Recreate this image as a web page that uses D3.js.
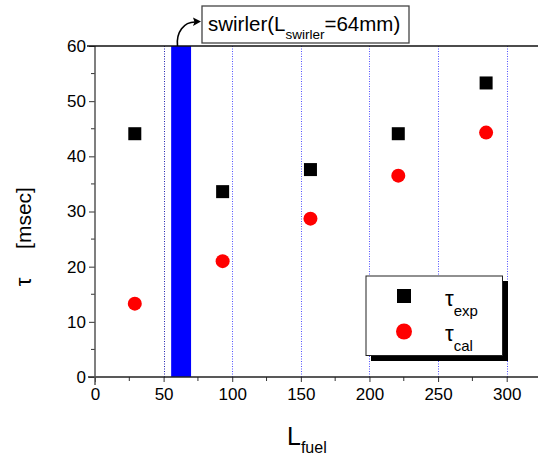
<!DOCTYPE html>
<html>
<head>
<meta charset="utf-8">
<script src="https://d3js.org/d3.v7.min.js"></script>
<style>
  body { margin: 0; background: #fff; }
  svg { display: block; font-family: Arial, "Liberation Sans", sans-serif; }
</style>
</head>
<body>
<script>
// Data
const lFuel = [29, 93, 157, 221, 285];
const tauExp = [44.1, 33.6, 37.6, 44.1, 53.3];
const tauCal = [13.3, 21.0, 28.7, 36.5, 44.3];
const swirlerBand = [55.5, 70];
const xTicks = [0, 50, 100, 150, 200, 250, 300];
const xMinor = [25, 75, 125, 175, 225, 275];
const yTicks = [0, 10, 20, 30, 40, 50, 60];
const yMinor = [5, 15, 25, 35, 45, 55];
const gridX = [50, 100, 150, 200, 250, 300];

const width = 538, height = 459;

const svg = d3.select("body").append("svg")
  .attr("width", width)
  .attr("height", height);

// scales: 0..300 -> 95..506.7, 0..60 -> 377..46
const x = d3.scaleLinear().domain([0, 300]).range([95, 506.7]);
const y = d3.scaleLinear().domain([0, 60]).range([377, 46]);

/*
 * ==================================================================
 *  Grid + swirler band
 * ==================================================================
 */
svg.append("g")
  .selectAll("line")
  .data(gridX)
  .enter()
  .append("line")
  .attr("x1", (d) => Math.round(x(d)) + 0.5)
  .attr("x2", (d) => Math.round(x(d)) + 0.5)
  .attr("y1", y(60))
  .attr("y2", y(0))
  .attr("stroke", (d) => (d === 50 ? "#2020b0" : "#5050ff"))
  .attr("stroke-width", 1)
  .attr("stroke-dasharray", "1,1.5");

svg.append("rect")
  .attr("x", x(swirlerBand[0]))
  .attr("y", y(60))
  .attr("width", x(swirlerBand[1]) - x(swirlerBand[0]))
  .attr("height", y(0) - y(60))
  .attr("fill", "#0000ff");

/*
 * ==================================================================
 *  Axes
 * ==================================================================
 */
const axisColor = "#333";

// bottom axis
const xAxisG = svg.append("g").attr("transform", `translate(0,${y(0)})`);
xAxisG.call(d3.axisBottom(x).tickValues(xTicks).tickSize(5).tickSizeOuter(0));
xAxisG.select(".domain").remove();
xAxisG.append("g")
  .selectAll("line")
  .data(xMinor)
  .enter()
  .append("line")
  .attr("x1", (d) => x(d))
  .attr("x2", (d) => x(d))
  .attr("y1", 0)
  .attr("y2", 4)
  .attr("stroke", axisColor);
xAxisG.append("line")
  .attr("x1", 88).attr("x2", width)
  .attr("stroke", "#222").attr("stroke-width", 1.3);

// left axis
const yAxisG = svg.append("g").attr("transform", `translate(${x(0)},0)`);
yAxisG.call(d3.axisLeft(y).tickValues(yTicks).tickSize(6).tickSizeOuter(0));
yAxisG.select(".domain").remove();
yAxisG.append("g")
  .selectAll("line")
  .data(yMinor)
  .enter()
  .append("line")
  .attr("y1", (d) => y(d))
  .attr("y2", (d) => y(d))
  .attr("x1", 0)
  .attr("x2", -4)
  .attr("stroke", axisColor);
yAxisG.append("line")
  .attr("y1", y(60)).attr("y2", 385)
  .attr("stroke", "#555").attr("stroke-width", 1.5);

[xAxisG, yAxisG].forEach((g) => {
  g.selectAll(".tick line").attr("stroke", axisColor);
  g.selectAll(".tick text")
    .attr("fill", "#000")
    .style("font-size", "17px")
    .style("font-family", "Arial, 'Liberation Sans', sans-serif");
});
xAxisG.selectAll(".tick text").attr("y", 11);
yAxisG.selectAll(".tick text").attr("x", -9);

// top frame line
svg.append("line")
  .attr("x1", 87).attr("x2", width)
  .attr("y1", y(60)).attr("y2", y(60))
  .attr("stroke", "#111").attr("stroke-width", 1.5);

/*
 * ==================================================================
 *  Points
 * ==================================================================
 */
const sq = 13;
svg.append("g")
  .selectAll("rect")
  .data(lFuel)
  .enter()
  .append("rect")
  .attr("x", (d) => x(d) - sq / 2)
  .attr("y", (d, i) => y(tauExp[i]) - sq / 2)
  .attr("width", sq)
  .attr("height", sq)
  .attr("fill", "#000");

svg.append("g")
  .selectAll("circle")
  .data(lFuel)
  .enter()
  .append("circle")
  .attr("cx", (d) => x(d))
  .attr("cy", (d, i) => y(tauCal[i]))
  .attr("r", 7)
  .attr("fill", "#ff0000");

/*
 * ==================================================================
 *  Legend
 * ==================================================================
 */
const leg = svg.append("g");
leg.append("rect")
  .attr("x", 371).attr("y", 281)
  .attr("width", 137).attr("height", 80)
  .attr("fill", "#000");
leg.append("rect")
  .attr("x", 366).attr("y", 276)
  .attr("width", 136.5).attr("height", 79.5)
  .attr("fill", "#fff")
  .attr("stroke", "#222").attr("stroke-width", 1);
leg.append("rect")
  .attr("x", 397).attr("y", 289)
  .attr("width", 14).attr("height", 14)
  .attr("fill", "#000");
leg.append("circle")
  .attr("cx", 404).attr("cy", 331.5)
  .attr("r", 8)
  .attr("fill", "#ff0000");

function tauLabel(sub, yBase) {
  const t = leg.append("text")
    .attr("x", 445)
    .attr("y", yBase)
    .style("font-size", "22px");
  t.append("tspan").text("τ");
  t.append("tspan")
    .attr("dy", 10)
    .style("font-size", "15px")
    .text(sub);
}
tauLabel("exp", 306);
tauLabel("cal", 341);

/*
 * ==================================================================
 *  Annotation
 * ==================================================================
 */
svg.append("rect")
  .attr("x", 202).attr("y", 6)
  .attr("width", 207).attr("height", 37)
  .attr("fill", "#fff")
  .attr("stroke", "#444").attr("stroke-width", 1.3);

const ann = svg.append("text")
  .attr("x", 208)
  .attr("y", 31)
  .style("font-size", "20.5px");
ann.append("tspan").text("swirler(L");
ann.append("tspan").attr("dy", 8).style("font-size", "13.5px").text("swirler");
ann.append("tspan").attr("dy", -8).text("=64mm)");

svg.append("path")
  .attr("d", "M177.5,46 C176,32 184,22 195,22")
  .attr("fill", "none")
  .attr("stroke", "#000")
  .attr("stroke-width", 1.6);
svg.append("path")
  .attr("d", "M201,21.5 L193,17.5 L194.5,22 L193,26 Z")
  .attr("fill", "#000");

/*
 * ==================================================================
 *  Axis titles
 * ==================================================================
 */
const xt = svg.append("text")
  .attr("x", 287)
  .attr("y", 445)
  .style("font-size", "25px");
xt.append("tspan").text("L");
xt.append("tspan").attr("dy", 8).style("font-size", "16px").text("fuel");

svg.append("text")
  .attr("transform", "translate(31,282) rotate(-90)")
  .attr("text-anchor", "middle")
  .style("font-size", "22px")
  .text("τ");
svg.append("text")
  .attr("transform", "translate(31,218) rotate(-90)")
  .attr("text-anchor", "middle")
  .style("font-size", "21px")
  .text("[msec]");
</script>
</body>
</html>
